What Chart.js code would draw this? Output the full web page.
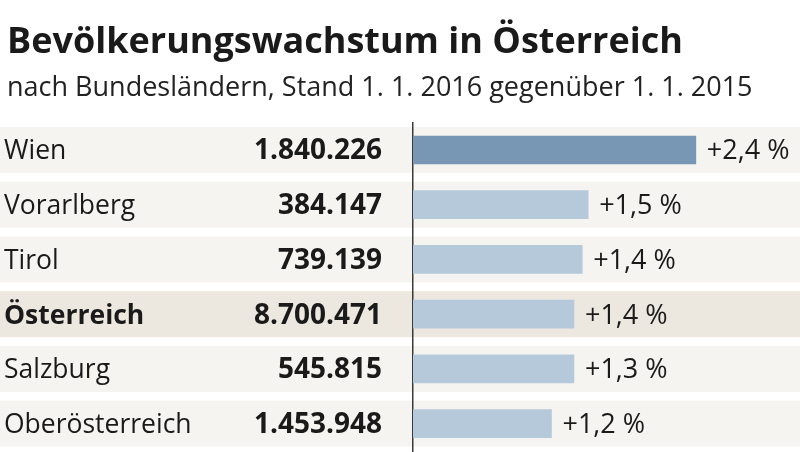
<!DOCTYPE html>
<html>
<head>
<meta charset="utf-8">
<script src="https://cdn.jsdelivr.net/npm/chart.js@4"></script>
<style>
  html, body { margin: 0; padding: 0; background: #fff; }
</style>
</head>
<body>
<canvas id="canvas" width="800" height="452"></canvas>
<script>
// data
const regions = ['Wien', 'Vorarlberg', 'Tirol', 'Österreich', 'Salzburg', 'Oberösterreich'];
const population = [1840226, 384147, 739139, 8700471, 545815, 1453948];
const growth = [2.39, 1.48, 1.43, 1.36, 1.36, 1.17];
const growthLabels = ['+2,4 %', '+1,5 %', '+1,4 %', '+1,4 %', '+1,3 %', '+1,2 %'];

const FONT = '"Open Sans", "Noto Sans", sans-serif';
const TEXT = '#1a1a1a';

const rowsPlugin = {
  id: 'rows',
  beforeDraw(chart) {
    const { ctx, scales: { y } } = chart;
    ctx.save();
    regions.forEach((r, i) => {
      const cy = y.getPixelForValue(i);
      ctx.fillStyle = r === 'Österreich' ? '#ece8df' : '#f5f4f0';
      ctx.fillRect(0, cy - 23, chart.width, 46);
    });
    ctx.restore();
  },
  afterDatasetsDraw(chart) {
    const { ctx, scales: { y } } = chart;
    const bars = chart.getDatasetMeta(0).data;
    ctx.save();
    ctx.fillStyle = TEXT;
    ctx.textBaseline = 'alphabetic';
    regions.forEach((r, i) => {
      const base = y.getPixelForValue(i) + 9.5;
      ctx.textAlign = 'left';
      ctx.font = (r === 'Österreich' ? 'bold ' : '') + '26.5px ' + FONT;
      ctx.fillText(r, 4, base);
      ctx.textAlign = 'right';
      ctx.font = 'bold 28px ' + FONT;
      ctx.fillText(population[i].toLocaleString('de-DE'), 382, base);
      ctx.textAlign = 'left';
      ctx.font = '27px ' + FONT;
      ctx.fillText(growthLabels[i], bars[i].x + 11, base);
    });
    ctx.restore();
  }
};

new Chart(document.getElementById('canvas').getContext('2d'), {
  type: 'bar',
  data: {
    labels: regions,
    datasets: [{
      data: growth,
      backgroundColor: growth.map((v, i) => i === 0 ? '#7897b5' : '#b5c9db'),
      borderWidth: 0,
      barThickness: 28
    }]
  },
  options: {
    indexAxis: 'y',
    responsive: false,
    animation: false,
    layout: { padding: { left: 7, right: 0, top: 0, bottom: 1 } },
    plugins: {
      legend: { display: false },
      tooltip: { enabled: false },
      title: {
        display: true,
        text: 'Bevölkerungswachstum in Österreich',
        align: 'start',
        color: TEXT,
        font: { family: FONT, size: 36, weight: 'bold', lineHeight: 1.2 },
        padding: { top: 21, bottom: 0 }
      },
      subtitle: {
        display: true,
        text: 'nach Bundesländern, Stand 1. 1. 2016 gegenüber 1. 1. 2015',
        align: 'start',
        color: '#222',
        font: { family: FONT, size: 27, lineHeight: 1.2 },
        padding: { top: 8, bottom: 18 }
      }
    },
    scales: {
      x: { display: false, min: 0, max: 3.27 },
      y: {
        ticks: { display: false },
        grid: { display: false, drawTicks: false },
        border: { display: true, color: '#3a3a3a', width: 1.5 },
        afterFit(scale) { scale.width = 406; }
      }
    }
  },
  plugins: [rowsPlugin]
});
</script>
</body>
</html>
